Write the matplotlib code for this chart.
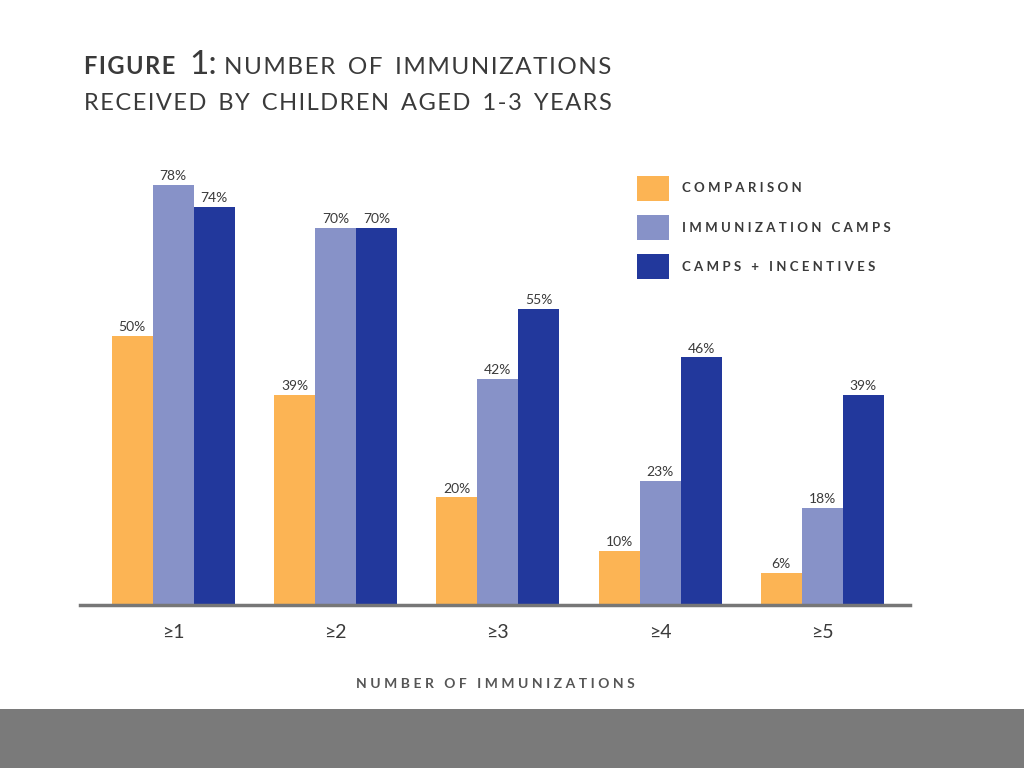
import matplotlib
matplotlib.use('Agg')
import matplotlib.pyplot as plt
import matplotlib.patches as mpatches
import numpy as np

# data
groups = ['≥1', '≥2', '≥3', '≥4', '≥5']
comparison = [50, 39, 20, 10, 6]
camps = [78, 70, 42, 23, 18]
camps_incentives = [74, 70, 55, 46, 39]
series_names = ['COMPARISON', 'IMMUNIZATION CAMPS', 'CAMPS + INCENTIVES']

COLOR = ['#fcb454', '#8792c8', '#22389c']
TEXT = '#3a3a3a'


def spaced(s: str, gap: str = '\u2009', word: str = '  ') -> str:
    # fake letter spacing with thin spaces
    return word.join(gap.join(w) for w in s.split(' '))


plt.rcParams['font.family'] = ['Lato', 'DejaVu Sans']

fig = plt.figure(figsize = (10.24, 7.68), dpi = 100)
fig.patch.set_facecolor('white')

# grey band at the bottom of the slide
fig.patches.append(mpatches.Rectangle((0, 0), 1, 59 / 768, transform = fig.transFigure,
    facecolor = '#7a7a7a', edgecolor = 'none', zorder = 0))

ax = fig.add_axes([80 / 1024, 163 / 768, 830 / 1024, 420 / 768])

x = np.arange(len(groups))
w = 0.253
all_series = [comparison, camps, camps_incentives]
for k, (vals, name) in enumerate(zip(all_series, series_names)):
    bars = ax.bar(x + (k - 1) * w, vals, width = w, color = COLOR[k],
        label = spaced(name, '\u2009\u2009', '\u2003'), edgecolor = 'none', zorder = 2)
    ax.bar_label(bars, labels = ['%d%%' % v for v in vals], padding = 2,
        fontsize = 10, color = TEXT)

ax.set_xlim(-0.575, 4.54)
ax.set_ylim(0, 78)
for s in ['top', 'right', 'left']:
    ax.spines[s].set_visible(False)
ax.spines['bottom'].set_color('#777777')
ax.spines['bottom'].set_linewidth(2.5)
ax.spines['bottom'].set_zorder(3)
ax.set_yticks([])
ax.set_xticks(x)
ax.set_xticklabels(groups, fontsize = 14, color = TEXT)
ax.tick_params(axis = 'x', length = 0, pad = 14)
ax.set_xlabel(spaced('NUMBER OF IMMUNIZATIONS', '\u2009\u2009', '\u2003'), fontsize = 10,
    fontweight = 'bold', color = '#555555', labelpad = 26)

ax.legend(loc = 'upper left', bbox_to_anchor = (637 / 1024, 1 - 176 / 768),
    bbox_transform = fig.transFigure, frameon = False, prop = {'size': 9.5, 'weight': 'bold'},
    handlelength = 2.4, handleheight = 2.5, labelspacing = 1.1, handletextpad = 1.0,
    borderpad = 0, borderaxespad = 0, labelcolor = TEXT)

# title in small caps style
fig.text(84 / 1024, 1 - 74 / 768, spaced('FIGURE', '\u200a'), fontsize = 17, fontweight = 'bold', color = TEXT)
fig.text(189 / 1024, 1 - 74 / 768, '1:', fontsize = 24, color = TEXT)
fig.text(224 / 1024, 1 - 74 / 768, spaced('NUMBER OF IMMUNIZATIONS', '\u200a'),
    fontsize = 17.5, color = TEXT)
fig.text(84 / 1024, 1 - 110 / 768, spaced('RECEIVED BY CHILDREN AGED 1-3 YEARS', '\u200a'),
    fontsize = 17, color = TEXT)

fig.savefig('out.png', dpi = 100)
